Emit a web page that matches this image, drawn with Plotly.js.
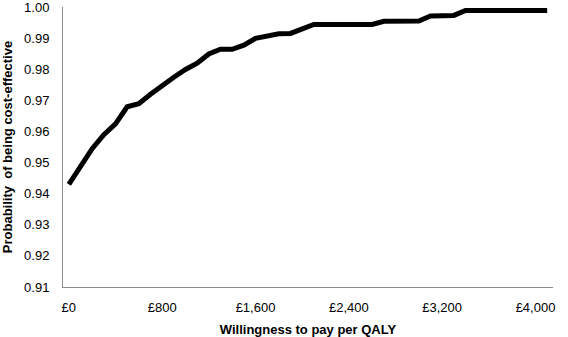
<!DOCTYPE html>
<html>
<head>
<meta charset="utf-8">
<script src="https://cdn.plot.ly/plotly-3.0.1.min.js"></script>
<style>html,body{margin:0;padding:0;background:#fff;}#chart{width:568px;height:337px;}</style>
</head>
<body>
<div id="chart"></div>
<script>
var wtp = [0,100,200,300,400,500,600,700,800,900,1000,1100,1200,1300,1400,1500,1600,1700,1800,1900,2000,2100,2200,2300,2400,2500,2600,2700,2800,2900,3000,3100,3200,3300,3400,3500,3600,3700,3800,3900,4000,4100];
var probability = [0.943,0.949,0.9545,0.959,0.9625,0.968,0.969,0.972,0.975,0.9775,0.980,0.982,0.985,0.9865,0.9865,0.9878,0.990,0.9907,0.9915,0.9916,0.993,0.9945,0.9945,0.9945,0.9945,0.9945,0.9945,0.9955,0.9955,0.9955,0.9956,0.9972,0.9974,0.9974,0.999,0.999,0.999,0.999,0.999,0.999,0.999,0.999];
var xTicks = [0,800,1600,2400,3200,4000];
var xTickLabels = ['£0','£800','£1,600','£2,400','£3,200','£4,000'];
var yTicks = [0.91,0.92,0.93,0.94,0.95,0.96,0.97,0.98,0.99,1.00];
var yTickLabels = ['0.91','0.92','0.93','0.94','0.95','0.96','0.97','0.98','0.99','1.00'];

var trace = {
  x: wtp, y: probability, type: 'scatter', mode: 'lines',
  line: {color: '#000000', width: 5, shape: 'linear'},
  hoverinfo: 'skip', cliponaxis: false
};
var font = {family: 'Liberation Sans, Arial, sans-serif', size: 13, color: '#000'};
var layout = {
  width: 568, height: 337,
  margin: {l: 63, r: 15, t: 7, b: 50},
  paper_bgcolor: '#fff', plot_bgcolor: '#fff',
  font: font,
  showlegend: false,
  xaxis: {
    range: [-50, 4150], tickvals: xTicks, ticktext: xTickLabels,
    showgrid: false, zeroline: false, showline: true, linecolor: '#8c8c8c', linewidth: 1,
    ticks: '', ticklabelstandoff: 8, tickfont: font, ticklabeloverflow: 'allow',
    title: {text: '<b>Willingness to pay per QALY</b>', font: font, standoff: 14}
  },
  yaxis: {
    range: [0.91, 1.0001], tickvals: yTicks, ticktext: yTickLabels,
    showgrid: false, zeroline: false, showline: true, linecolor: '#8c8c8c', linewidth: 1,
    ticks: '', ticklabelstandoff: 10, tickfont: font, ticklabeloverflow: 'allow',
    title: {text: '<b>Probability  of being cost-effective</b>', font: font, standoff: 10}
  }
};
Plotly.newPlot('chart', [trace], layout, {staticPlot: true, displayModeBar: false});
</script>
</body>
</html>
